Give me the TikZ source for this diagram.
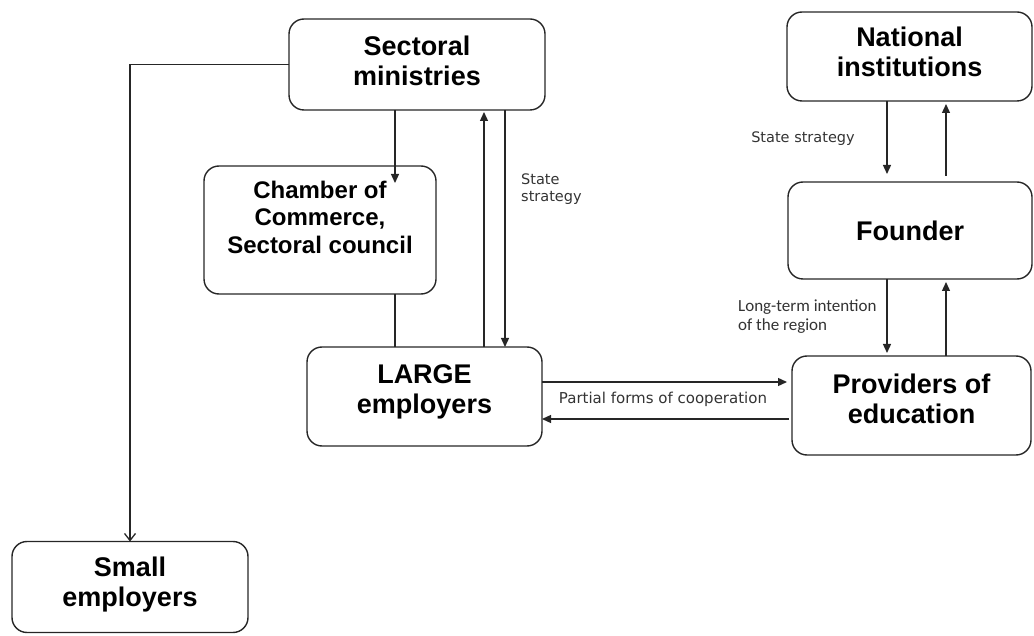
\documentclass[tikz,border=0pt]{standalone}
\usepackage{fontspec}
\setmainfont{Liberation Sans}
\newfontfamily\labelfont{DejaVu Sans}
\newfontfamily\notefont{Carlito}
\usetikzlibrary{arrows.meta}
\begin{document}
\begin{tikzpicture}[x=1pt,y=-1pt,
  box/.style={draw=black!85,line width=1.4pt,rounded corners=15pt,
    inner sep=0pt,outer sep=0pt,align=center,
    font=\fontsize{27}{30}\selectfont\bfseries},
  link/.style={draw=black!85,line width=1.3pt},
  tip/.style={link,-{Triangle[length=9pt,width=8pt]}},
  barb/.style={link,-{Straight Barb[length=7pt,width=11pt,line width=1.3pt]}},
  small/.style={font=\labelfont\fontsize{14.5}{17}\selectfont,inner sep=0pt,text=black!80},
  note/.style={font=\notefont\fontsize{17}{19}\selectfont,inner sep=0pt,text=black!80,align=left}]
\useasboundingbox (0,0) rectangle (1034,636);

% boxes
\node[box,minimum width=256pt,minimum height=91pt,text depth=8pt] (min) at (417,64.5) {Sectoral\\ministries};
\node[box,minimum width=232pt,minimum height=128pt,text depth=26pt,
  font=\fontsize{24}{27.5}\selectfont\bfseries] (chamber) at (320,230) {Chamber of\\Commerce,\\Sectoral council};
\node[box,minimum width=235pt,minimum height=99pt,text depth=14pt] (large) at (424.5,396.5) {LARGE\\employers};
\node[box,minimum width=245pt,minimum height=89pt,text depth=10pt] (nat) at (909.5,56.5) {National\\institutions};
\node[box,minimum width=244pt,minimum height=97pt] (founder) at (910,230.5) {Founder};
\node[box,minimum width=239pt,minimum height=99pt,text depth=14pt] (prov) at (911.5,405.5) {Providers of\\education};
\node[box,minimum width=236pt,minimum height=91pt,text depth=10pt] (smallemp) at (130,587) {Small\\employers};

% left branch to small employers
\draw[barb] (min.west) -| (smallemp.north);

% ministries / chamber / large employers
\draw[tip,shorten >=-17pt] (min.south -| 395,0) -- (chamber.north -| 395,0);
\draw[link] (chamber.south -| 395,0) -- (large.north -| 395,0);
\draw[tip,shorten >=2pt] (large.north -| 484,0) -- (min.south -| 484,0);
\draw[tip] (min.south -| 505,0) -- (large.north -| 505,0);
\node[small,anchor=north west,align=left] (ss1) at (521,174) {State\\strategy};

% cooperation between large employers and providers
\draw[tip,shorten >=5pt] (large.east |- 0,382) -- (prov.west |- 0,382);
\draw[tip,shorten <=3pt] (prov.west |- 0,419) -- (large.east |- 0,419);
\node[small,font=\labelfont\fontsize{15}{17}\selectfont] (coop) at (663,399) {Partial forms of cooperation};

% national institutions / founder / providers
\draw[tip,shorten >=8pt] (nat.south -| 887,0) -- (founder.north -| 887,0);
\draw[tip,shorten <=6pt,shorten >=3pt] (founder.north -| 946,0) -- (nat.south -| 946,0);
\node[small] (ss2) at (803,139) {State strategy};
\draw[tip,shorten >=3pt] (founder.south -| 887,0) -- (prov.north -| 887,0);
\draw[tip,shorten >=3pt] (prov.north -| 946,0) -- (founder.south -| 946,0);
\node[note,anchor=north west] (lt) at (738,300) {Long-term intention\\of the region};
\end{tikzpicture}
\end{document}
